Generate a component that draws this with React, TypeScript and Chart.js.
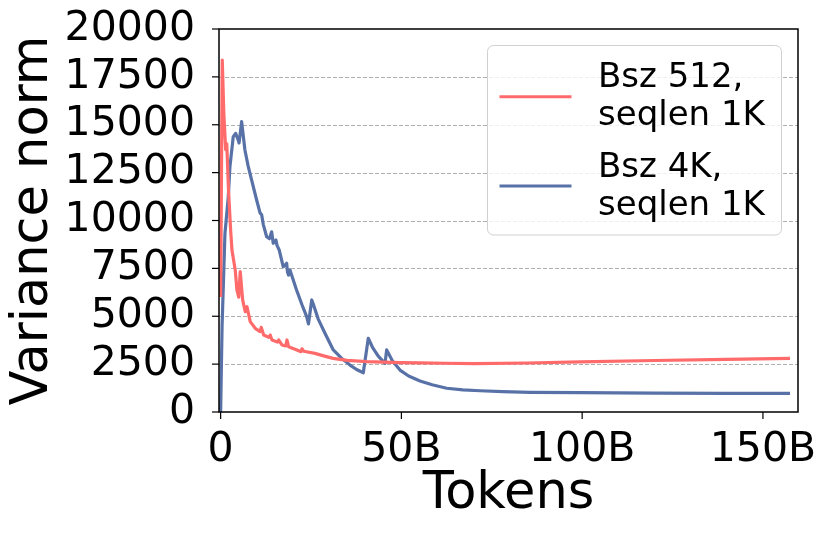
import React, { useEffect, useRef } from 'react';
import { Chart, registerables } from 'chart.js';

Chart.register(...registerables);

// ---- data ----
const tokensRed = [0, 0.45, 0.9, 1.4, 1.7, 2.2, 2.77, 3.13, 4.04, 4.51, 5.0, 5.42, 6.09, 6.81, 7.28, 8.19, 9.57, 10.9, 11.23, 11.9, 13.3, 13.72, 14.2, 15.7, 16.05, 16.96, 18.0, 18.35, 18.8, 21.1, 22.2, 22.5, 23.0, 26.1, 28.5, 31.1, 35.0, 40.4, 45.0, 49.6, 55.2, 62, 70, 85, 99.4, 120, 140, 157.5];
const varianceRed = [6000, 18380, 15500, 13700, 14000, 11500, 9500, 8460, 7420, 6370, 6000, 7330, 5850, 5240, 5500, 4720, 4370, 4200, 4420, 4020, 3900, 4020, 3760, 3650, 3760, 3500, 3450, 3760, 3410, 3240, 3150, 3300, 3170, 3060, 2930, 2800, 2700, 2630, 2600, 2580, 2570, 2545, 2530, 2560, 2620, 2690, 2750, 2800];

const tokensBlue = [0, 0.4, 1.19, 2.1, 2.57, 3.49, 4.15, 4.87, 5.1, 5.81, 6.72, 7.6, 8.58, 9.96, 10.9, 11.35, 11.79, 12.73, 13.5, 14.11, 14.55, 15.3, 15.6, 16.2, 17.3, 18.0, 18.26, 18.5, 18.8, 19.18, 21.0, 22.5, 23.8, 24.3, 25.2, 25.5, 27.0, 28.86, 31.16, 33.5, 35.78, 37.6, 39.46, 40.84, 42.0, 43.6, 45.46, 45.93, 47.5, 49.61, 52.0, 55.15, 58.5, 62.53, 67.0, 71.75, 78.0, 85.58, 99.42, 120, 140, 157.5];
const varianceBlue = [0, 4500, 9300, 11200, 12800, 14380, 14550, 14200, 14050, 15160, 13680, 12850, 12110, 11070, 10400, 10300, 9800, 9150, 9050, 9410, 8810, 8980, 8700, 8460, 7590, 7700, 7770, 7300, 7150, 7420, 6370, 5600, 4980, 4600, 5850, 5700, 4850, 4110, 3240, 2800, 2450, 2220, 2050, 3850, 3380, 2920, 2540, 3240, 2680, 2190, 1880, 1620, 1420, 1240, 1160, 1110, 1065, 1030, 1010, 990, 975, 975];

const yTicks = [0, 2500, 5000, 7500, 10000, 12500, 15000, 17500, 20000];
const xTicks = [0, 50, 100, 150];
const seriesLabels = [['Bsz 512,', 'seqlen 1K'], ['Bsz 4K,', 'seqlen 1K']];
const seriesColors = ['#ff6b6b', '#5872a8'];
const xTitle = 'Tokens';
const yTitle = 'Variance norm';

const FONT = '"DejaVu Sans", Verdana, sans-serif';

const framePlugin = {
  id: 'framePlugin',
  beforeDatasetsDraw(chart: any) {
    const { ctx, chartArea: a, scales } = chart;
    const y = scales.y;
    ctx.save();
    ctx.strokeStyle = '#b0b0b0';
    ctx.lineWidth = 1;
    ctx.setLineDash([4, 2]);
    for (const v of yTicks) {
      if (v <= y.min || v >= y.max) continue;
      const py = Math.round(y.getPixelForValue(v)) + 0.5;
      ctx.beginPath();
      ctx.moveTo(a.left, py);
      ctx.lineTo(a.right, py);
      ctx.stroke();
    }
    ctx.restore();
  },
  afterDatasetsDraw(chart: any) {
    const { ctx, chartArea: a, scales } = chart;
    const x = scales.x;
    const y = scales.y;
    ctx.save();
    ctx.strokeStyle = '#000';
    ctx.lineWidth = 1.5;
    ctx.setLineDash([]);
    ctx.strokeRect(a.left, a.top, a.right - a.left, a.bottom - a.top);
    ctx.lineWidth = 1.2;
    for (const v of yTicks) {
      const py = y.getPixelForValue(v);
      ctx.beginPath();
      ctx.moveTo(a.left - 7, py);
      ctx.lineTo(a.left, py);
      ctx.stroke();
    }
    for (const v of xTicks) {
      const px = x.getPixelForValue(v);
      ctx.beginPath();
      ctx.moveTo(px, a.bottom);
      ctx.lineTo(px, a.bottom + 7);
      ctx.stroke();
    }

    // legend
    const bx = 487.5, by = 45.5, bw = 294, bh = 189.5;
    ctx.beginPath();
    (ctx as any).roundRect(bx, by, bw, bh, 6);
    ctx.fillStyle = 'rgba(255,255,255,0.8)';
    ctx.fill();
    ctx.strokeStyle = '#d0d0d0';
    ctx.lineWidth = 1;
    ctx.stroke();

    const rows = [
      { lineY: 96.7, base: [86.7, 125] },
      { lineY: 186, base: [176.7, 215] },
    ];
    ctx.font = `34px ${FONT}`;
    ctx.textBaseline = 'alphabetic';
    ctx.textAlign = 'left';
    rows.forEach((r, i) => {
      ctx.strokeStyle = seriesColors[i];
      ctx.lineWidth = 3;
      ctx.beginPath();
      ctx.moveTo(499.5, r.lineY);
      ctx.lineTo(571.5, r.lineY);
      ctx.stroke();
      ctx.fillStyle = '#000';
      seriesLabels[i].forEach((t, j) => ctx.fillText(t, 598, r.base[j]));
    });
    ctx.restore();
  },
};

export default function App() {
  const ref = useRef<HTMLCanvasElement | null>(null);
  useEffect(() => {
    document.body.style.margin = '0';
    if (!ref.current) return;
    const chart = new Chart(ref.current, {
      type: 'line',
      data: {
        datasets: [
          {
            label: seriesLabels[0].join(' '),
            data: tokensRed.map((t, i) => ({ x: t, y: varianceRed[i] })),
            borderColor: seriesColors[0],
            borderWidth: 3.2,
            pointRadius: 0,
            tension: 0,
            fill: false,
            borderJoinStyle: 'round',
          },
          {
            label: seriesLabels[1].join(' '),
            data: tokensBlue.map((t, i) => ({ x: t, y: varianceBlue[i] })),
            borderColor: seriesColors[1],
            borderWidth: 3.2,
            pointRadius: 0,
            tension: 0,
            fill: false,
            borderJoinStyle: 'round',
          },
        ],
      },
      options: {
        animation: false,
        responsive: true,
        maintainAspectRatio: false,
        layout: { padding: { top: 29, right: 33, left: 0, bottom: 0 } },
        plugins: { legend: { display: false }, tooltip: { enabled: false } },
        scales: {
          x: {
            type: 'linear',
            min: -0.45,
            max: 159.7,
            grid: { display: false },
            border: { display: false },
            afterBuildTicks: (s: any) => { s.ticks = xTicks.map((v) => ({ value: v })); },
            afterFit: (s: any) => { s.height = 124; s.paddingLeft = 0; s.paddingRight = 0; },
            ticks: {
              color: '#000',
              padding: 6,
              maxRotation: 0,
              autoSkip: false,
              font: { family: FONT, size: 41 },
              callback: (v: any) => (Number(v) === 0 ? '0' : `${v}B`),
            },
            title: {
              display: true,
              text: xTitle,
              color: '#000',
              font: { family: FONT, size: 51, lineHeight: 1.2 },
              padding: { top: 0, bottom: 11 },
            },
          },
          y: {
            type: 'linear',
            min: 0,
            max: 20000,
            grid: { display: false },
            border: { display: false },
            afterBuildTicks: (s: any) => { s.ticks = yTicks.map((v) => ({ value: v })); },
            afterFit: (s: any) => { s.width = 219; s.paddingTop = 0; s.paddingBottom = 0; },
            ticks: {
              color: '#000',
              padding: 16,
              autoSkip: false,
              font: { family: FONT, size: 41 },
              callback: (v: any) => String(v),
            },
            title: {
              display: true,
              text: yTitle,
              color: '#000',
              font: { family: FONT, size: 51, lineHeight: 1.2 },
              padding: { top: 3, bottom: 0 },
            },
          },
        },
      },
      plugins: [framePlugin],
    } as any);
    return () => chart.destroy();
  }, []);
  return (
    <div style={{ width: 831, height: 536, position: 'relative' }}>
      <canvas ref={ref} />
    </div>
  );
}
